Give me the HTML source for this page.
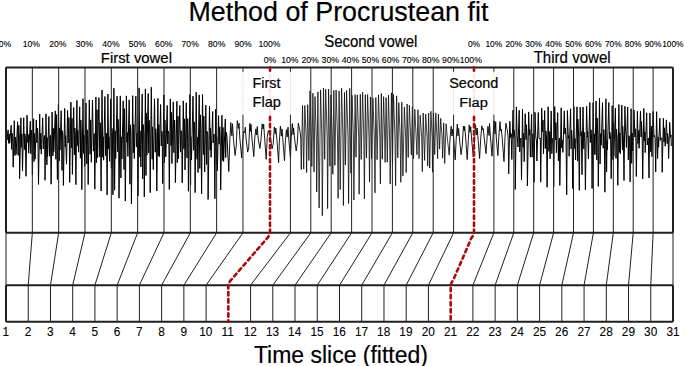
<!DOCTYPE html>
<html><head><meta charset="utf-8"><style>
html,body{margin:0;padding:0;background:#fff;width:685px;height:366px;overflow:hidden}
svg{display:block}
text{font-family:"Liberation Sans",sans-serif;stroke:#000;stroke-width:0.2px}
</style></head><body>
<svg width="685" height="366" viewBox="0 0 685 366">
<rect width="685" height="366" fill="#fff"/>
<path d="M6.5,131.0 L7.0,140.2 L8.1,129.9 L8.6,143.3 L9.2,133.9 L9.7,143.3 L11.2,125.3 L11.6,149.4 L12.0,133.0 L12.6,136.4 L13.2,167.2 L14.3,120.7 L14.9,155.6 L15.4,137.0 L16.1,154.4 L17.6,121.8 L18.1,155.4 L18.8,125.4 L19.3,135.9 L19.6,178.8 L20.9,117.8 L21.4,147.3 L21.9,134.0 L22.5,171.1 L23.7,117.7 L24.4,149.6 L24.8,133.8 L25.3,135.7 L26.0,176.3 L27.0,115.2 L27.8,142.4 L28.2,134.4 L28.7,153.2 L30.3,121.2 L30.8,153.8 L31.5,130.0 L31.9,135.9 L32.4,174.9 L33.6,118.8 L34.0,161.4 L34.4,133.3 L35.1,159.1 L36.3,120.0 L36.9,142.8 L37.4,128.1 L37.9,135.8 L38.5,184.4 L39.7,114.0 L40.2,149.3 L40.8,133.2 L41.3,154.1 L42.7,117.8 L43.3,149.0 L43.9,137.5 L44.6,135.5 L45.0,180.3 L46.0,113.9 L46.9,164.8 L47.1,137.6 L47.6,156.6 L48.9,116.5 L49.5,156.2 L50.2,136.6 L50.5,135.3 L51.1,184.2 L52.1,112.0 L52.9,155.9 L53.3,128.3 L53.8,151.7 L55.3,110.9 L55.9,159.3 L56.4,114.6 L56.8,134.9 L57.4,179.6 L58.4,104.4 L59.2,160.9 L59.4,128.1 L60.0,150.1 L61.2,110.7 L62.0,170.4 L62.4,130.7 L62.9,134.7 L63.4,185.4 L64.7,108.5 L65.3,146.7 L65.6,135.7 L66.5,164.2 L67.6,110.5 L68.2,142.9 L68.9,117.5 L69.3,134.7 L69.7,182.4 L70.9,102.1 L71.6,147.7 L72.0,118.3 L72.4,174.4 L73.7,107.5 L74.4,154.9 L74.8,128.0 L75.3,134.1 L75.9,184.6 L76.9,100.4 L77.3,145.6 L77.8,130.2 L78.6,152.2 L79.7,106.8 L80.4,158.2 L80.8,120.0 L81.3,134.0 L81.8,189.7 L83.0,98.7 L83.6,153.4 L84.0,135.1 L84.7,166.4 L86.0,103.0 L86.8,163.9 L87.3,129.8 L87.6,133.8 L88.2,184.5 L89.3,99.9 L90.1,154.2 L90.7,119.9 L91.3,162.3 L92.5,100.0 L93.4,151.2 L93.9,135.3 L94.3,133.6 L94.8,189.2 L95.9,97.0 L96.4,162.6 L97.0,109.7 L97.6,157.7 L98.9,97.7 L99.7,156.8 L100.2,122.7 L100.5,133.3 L101.1,191.0 L102.0,90.0 L102.8,157.4 L103.2,136.8 L103.6,160.2 L104.9,96.5 L105.7,155.7 L106.1,133.9 L106.5,133.3 L107.1,194.9 L107.9,94.0 L108.6,148.9 L108.9,136.8 L109.6,161.3 L110.8,98.8 L111.4,168.3 L111.9,128.3 L112.4,133.2 L112.9,194.8 L113.9,88.2 L114.6,190.2 L115.2,130.8 L115.7,158.6 L117.1,96.2 L117.7,151.8 L118.1,119.4 L118.6,133.3 L119.0,198.2 L120.3,95.9 L120.9,178.0 L121.2,136.8 L121.9,159.0 L123.2,100.8 L124.0,169.5 L124.3,108.6 L124.8,133.4 L125.3,201.1 L126.4,95.9 L126.9,142.3 L127.4,132.6 L127.9,156.4 L129.2,99.8 L129.9,184.2 L130.4,124.8 L130.9,133.3 L131.4,204.0 L132.7,95.7 L133.3,152.8 L133.8,124.4 L134.3,158.5 L135.8,96.2 L136.4,147.0 L137.0,133.2 L137.4,133.0 L138.0,195.9 L139.1,87.9 L139.8,157.0 L140.0,130.9 L140.9,166.9 L142.2,94.1 L142.7,179.0 L143.2,124.5 L143.8,132.9 L144.3,196.9 L145.4,88.9 L146.0,175.5 L146.3,112.9 L146.9,155.1 L148.2,93.5 L148.7,153.0 L149.2,120.3 L149.8,133.0 L150.2,192.7 L151.3,87.2 L152.2,159.3 L152.5,126.9 L153.3,169.6 L154.5,98.8 L155.3,152.2 L155.7,128.7 L156.2,133.5 L156.8,191.0 L157.9,98.4 L158.2,155.9 L158.8,124.5 L159.3,156.7 L160.6,104.5 L161.3,146.0 L161.8,131.0 L162.2,133.8 L162.7,183.6 L163.9,94.9 L164.5,162.8 L164.9,120.0 L165.8,156.8 L167.2,105.4 L167.7,143.9 L168.2,131.0 L168.8,134.1 L169.3,189.5 L170.3,98.9 L171.0,145.5 L171.5,112.4 L171.9,163.6 L173.3,101.9 L173.9,152.6 L174.6,120.2 L175.0,134.0 L175.4,182.6 L176.9,101.3 L177.3,162.6 L178.0,116.3 L178.4,159.0 L179.8,105.4 L180.5,152.1 L181.1,130.6 L181.7,133.9 L182.2,182.8 L183.3,100.9 L183.9,148.8 L184.5,118.9 L185.0,169.9 L186.3,102.8 L187.0,158.0 L187.7,118.6 L188.1,133.6 L188.4,191.3 L189.9,94.5 L190.6,184.9 L190.8,136.7 L191.5,159.9 L193.0,96.2 L193.7,150.2 L194.3,121.9 L194.7,133.0 L195.1,192.6 L196.2,92.2 L197.0,159.2 L197.3,137.2 L198.0,172.5 L199.2,94.9 L199.8,168.4 L200.4,114.8 L201.0,133.0 L201.6,194.0 L202.5,94.3 L203.4,154.5 L203.8,116.1 L204.7,172.0 L205.8,105.1 L206.6,164.5 L207.0,131.3 L207.7,134.2 L208.1,199.5 L209.5,106.3 L210.2,150.1 L210.4,128.0 L211.1,157.4 L212.7,111.5 L213.1,142.9 L213.9,134.0 L214.2,135.1 L214.9,198.7 L215.7,109.2 L216.5,164.3 L216.7,136.8 L217.4,170.7 L218.6,115.7 L219.1,144.2 L219.7,126.8 L220.2,135.4 L220.7,190.0 L221.9,115.2 L222.8,160.6 L223.0,127.4 L223.6,161.5 L225.3,119.0 L225.7,157.6 L226.2,132.0 L226.9,136.0 L228.8,171.5" fill="none" stroke="#000" stroke-width="1.0" stroke-linejoin="round"/>
<path d="M228.8,171.5 L229.9,138.6 L230.8,122.6 L231.9,135.8 L232.5,123.7 L233.4,138.0 L235.1,155.5 L236.3,145.3 L237.3,120.7 L238.4,128.4 L239.0,123.2 L239.8,138.0 L241.7,157.8 L242.5,142.9 L243.7,131.5 L244.7,132.8 L245.3,127.2 L246.0,138.0 L247.7,152.1 L248.7,147.8 L249.8,123.4 L250.4,131.4 L251.0,124.4 L251.9,138.0 L253.8,156.6 L254.7,138.8 L255.9,128.9 L256.5,135.0 L257.3,126.5 L258.1,138.0 L259.9,148.5 L260.9,140.6 L262.2,123.8 L263.0,129.1 L263.7,124.3 L264.6,138.0 L266.2,159.3 L267.2,137.3 L268.3,130.7 L269.0,132.4 L269.6,131.7 L270.5,138.0 L272.1,148.9 L273.3,143.2 L274.3,126.9 L275.3,133.8 L275.8,128.1 L276.8,138.0 L278.6,162.6 L279.3,142.9 L280.4,126.1 L281.4,136.1 L282.0,128.9 L282.7,138.0 L284.5,160.7 L285.4,140.4 L286.4,129.7 L287.2,137.0 L288.0,127.2 L288.7,138.0 L290.5,158.3 L291.2,138.0 L292.3,123.6 L293.1,134.6 L293.6,127.9 L294.5,138.0 L296.2,151.0 L297.3,142.9 L298.3,123.2 L299.4,128.1 L300.0,131.2 L300.8,138.0 L301.3,169.5" fill="none" stroke="#000" stroke-width="0.9" stroke-linejoin="round"/>
<path d="M301.3,169.5 L302.5,105.4 L303.7,169.1 L304.8,105.5 L306.2,138.0 L306.6,172.6 L307.7,104.7 L308.9,160.5 L310.0,90.9 L311.3,138.0 L311.8,166.5 L312.9,93.2 L314.0,171.9 L315.0,96.6 L316.3,138.0 L316.7,191.9 L317.9,91.9 L319.1,208.0 L320.6,89.9 L321.8,138.0 L322.3,215.7 L323.5,88.1 L324.7,159.3 L325.7,89.2 L327.2,138.0 L327.6,208.6 L328.6,89.1 L329.9,166.2 L330.9,94.8 L332.3,138.0 L332.8,174.3 L333.8,90.4 L334.9,165.4 L336.1,90.0 L337.5,138.0 L338.1,198.3 L339.1,90.9 L340.2,189.6 L341.6,88.3 L342.9,138.0 L343.4,205.5 L344.5,92.4 L345.4,164.8 L346.6,90.4 L348.0,138.0 L348.6,203.5 L349.7,88.3 L350.9,173.2 L352.0,95.3 L353.4,138.0 L353.9,200.0 L355.1,94.7 L356.0,157.2 L357.3,94.9 L358.7,138.0 L359.1,194.2 L360.3,94.3 L361.2,159.5 L362.6,92.2 L363.8,138.0 L364.4,199.0 L365.3,94.7 L366.5,157.9 L367.6,94.6 L369.0,138.0 L369.5,182.1 L370.4,96.9 L371.6,158.5 L372.9,97.8 L374.3,138.0 L375.0,192.9 L375.8,97.5 L377.1,159.7 L378.5,94.8 L379.8,138.0 L380.4,183.9 L381.3,93.4 L382.3,159.2 L383.6,96.6 L384.7,138.0 L385.1,162.4 L386.1,97.5 L387.3,162.2 L388.5,95.1 L389.6,138.0 L390.2,184.1 L391.4,92.8 L392.5,163.9 L393.5,94.4 L395.0,138.0 L395.6,185.8 L396.6,95.9 L397.8,157.8 L398.8,102.6 L400.2,138.0 L400.8,182.3 L401.8,102.2 L402.9,175.9 L404.4,106.9 L405.7,138.0 L406.2,172.6 L407.1,104.0 L408.2,157.4 L409.4,105.2 L410.7,138.0 L411.3,155.1 L412.4,106.6 L413.5,158.8 L414.8,109.3 L416.2,138.0 L416.9,154.7 L418.0,109.7 L419.0,158.6 L420.2,115.3 L421.7,138.0 L422.3,171.6 L423.2,113.0 L424.6,160.4 L425.7,114.1 L427.1,138.0 L427.7,166.1 L428.6,113.1 L429.7,168.1 L430.9,111.3 L432.2,138.0 L432.5,172.2 L433.5,112.9 L434.7,154.5 L435.8,112.8 L437.0,138.0 L437.6,158.6 L438.4,114.0 L439.6,149.1 L440.7,118.3 L442.1,138.0 L442.6,158.2 L443.7,122.9 L444.7,163.4 L446.1,123.8 L447.3,138.0 L449.2,155.1" fill="none" stroke="#000" stroke-width="0.75" stroke-linejoin="round"/>
<path d="M449.2,155.1 L450.2,136.1 L451.2,126.3 L452.0,136.1 L452.7,129.0 L453.6,138.0 L455.2,159.9 L456.2,139.0 L457.3,124.0 L458.0,135.9 L458.6,128.5 L459.4,138.0 L461.1,154.7 L462.3,145.3 L463.4,126.2 L464.2,130.6 L464.7,126.4 L465.7,138.0 L467.2,159.5 L468.2,141.9 L469.2,124.9 L470.0,132.3 L470.7,126.7 L471.5,138.0 L473.3,157.0 L474.4,142.7 L475.4,124.6 L476.5,135.0 L477.1,128.0 L478.0,138.0 L479.6,158.5 L480.7,139.0 L481.8,125.9 L482.8,129.9 L483.3,128.7 L484.2,138.0 L486.0,153.7 L487.1,137.4 L487.9,126.3 L489.1,135.5 L489.5,123.6 L490.5,138.0 L492.0,156.2 L493.0,136.6 L494.1,120.8 L495.0,134.0 L495.7,121.6 L496.3,138.0 L497.9,155.6 L498.8,137.3 L500.0,121.5 L500.8,131.0 L501.3,129.1 L502.2,138.0 L504.0,161.6 L505.0,137.2 L505.9,123.1 L506.8,128.3 L507.4,129.8 L508.2,138.0 L508.7,173.8" fill="none" stroke="#000" stroke-width="0.9" stroke-linejoin="round"/>
<path d="M508.7,173.8 L509.8,121.3 L510.7,137.6 L511.2,133.7 L511.8,159.5 L513.0,110.2 L513.6,137.8 L514.2,129.8 L514.9,138.0 L515.3,189.4 L516.4,106.9 L517.1,135.7 L517.4,138.9 L518.0,147.0 L519.2,110.2 L519.7,151.9 L520.4,140.4 L520.9,138.0 L521.5,180.1 L522.5,109.1 L523.1,147.2 L523.5,133.4 L524.2,161.7 L525.2,113.7 L526.0,139.6 L526.4,124.7 L527.0,138.0 L527.4,185.9 L528.7,111.9 L529.3,135.3 L529.8,129.7 L530.4,157.1 L531.6,114.3 L532.1,157.2 L532.9,133.8 L533.4,138.0 L534.0,182.3 L535.0,112.3 L535.8,137.1 L536.5,140.9 L536.9,161.0 L538.3,112.5 L539.0,137.9 L539.6,138.9 L540.3,138.0 L540.7,182.2 L541.7,108.3 L542.4,131.6 L543.0,120.2 L543.5,153.7 L544.7,110.6 L545.3,148.5 L545.9,130.8 L546.5,138.0 L547.1,187.3 L548.1,106.8 L549.0,151.4 L549.3,131.6 L550.1,158.8 L551.2,111.0 L551.8,153.6 L552.4,139.3 L553.2,138.0 L553.7,186.6 L554.7,106.6 L555.5,139.9 L555.9,122.6 L556.4,152.8 L557.7,112.7 L558.4,160.9 L558.7,143.0 L559.4,138.0 L559.8,185.4 L561.2,107.8 L561.7,147.8 L562.3,139.9 L562.9,152.4 L564.3,110.9 L564.8,134.0 L565.4,128.1 L566.0,138.0 L566.7,194.9 L567.4,110.6 L568.3,138.2 L568.8,135.6 L569.1,156.3 L570.6,108.8 L571.1,148.9 L571.6,130.2 L572.1,138.0 L572.7,188.5 L573.9,106.5 L574.4,148.4 L575.0,138.6 L575.6,159.9 L577.0,106.8 L577.7,161.2 L577.9,119.1 L578.7,138.0 L579.3,190.3 L580.2,107.2 L580.9,136.3 L581.3,131.7 L582.0,174.7 L583.0,107.0 L583.8,148.9 L584.1,132.2 L584.8,138.0 L585.4,189.7 L586.6,106.2 L587.4,137.2 L587.7,131.7 L588.4,159.0 L589.8,102.5 L590.4,142.5 L591.0,129.8 L591.6,138.0 L592.1,188.5 L593.1,102.7 L594.0,153.7 L594.4,133.9 L595.0,154.8 L596.1,101.0 L596.8,159.9 L597.2,118.0 L597.9,138.0 L598.3,186.4 L599.5,98.3 L600.1,164.0 L600.6,133.7 L601.2,145.2 L602.5,102.6 L603.2,148.2 L603.8,129.6 L604.3,138.0 L604.9,192.2 L605.9,98.8 L606.6,171.9 L607.0,140.6 L607.4,149.8 L608.8,102.5 L609.5,138.9 L609.9,132.2 L610.6,138.0 L611.2,178.7 L612.2,105.7 L613.0,159.7 L613.3,122.4 L613.8,156.5 L615.4,108.1 L616.0,158.5 L616.5,129.2 L617.2,138.0 L617.8,185.3 L618.9,104.5 L619.3,152.3 L619.8,132.8 L620.4,153.8 L621.8,105.1 L622.5,149.9 L622.7,126.3 L623.4,138.0 L624.0,180.5 L624.9,106.2 L625.6,131.3 L626.1,136.0 L626.4,147.4 L627.7,107.0 L628.3,159.9 L628.9,135.6 L629.5,138.0 L630.1,181.9 L631.1,108.7 L631.7,163.4 L632.2,133.0 L632.8,151.0 L634.0,110.1 L634.9,137.0 L635.3,128.7 L635.9,138.0 L636.3,176.5 L637.4,111.3 L638.0,143.6 L638.7,130.4 L639.1,148.3 L640.5,111.2 L641.1,137.0 L641.5,121.6 L642.2,138.0 L642.7,178.9 L643.8,108.5 L644.3,140.7 L644.9,131.9 L645.2,152.6 L646.7,112.8 L647.2,145.0 L647.7,140.9 L648.3,138.0 L649.0,178.0 L649.9,113.0 L650.8,151.8 L651.4,126.1 L651.9,156.6 L653.1,111.4 L654.0,136.8 L654.3,135.3 L655.1,138.0 L655.7,171.9 L656.6,111.7 L657.6,158.5 L658.2,137.3 L658.6,147.1 L659.9,118.2 L660.4,140.4 L661.0,138.2 L661.8,138.0 L662.2,172.3 L663.4,118.3 L664.0,142.0 L664.4,127.8 L665.2,146.3 L666.4,119.9 L667.2,143.7 L667.5,133.4 L668.2,138.0 L668.6,158.5 L669.7,122.4 L670.5,137.5 L671.0,134.9 L671.3,146.0" fill="none" stroke="#000" stroke-width="1.0" stroke-linejoin="round"/>

<line x1="32.33" y1="67.6" x2="32.33" y2="232.8" stroke="#231f20" stroke-width="1"/>
<line x1="58.66" y1="67.6" x2="58.66" y2="232.8" stroke="#231f20" stroke-width="1"/>
<line x1="84.99" y1="67.6" x2="84.99" y2="232.8" stroke="#231f20" stroke-width="1"/>
<line x1="111.32" y1="67.6" x2="111.32" y2="232.8" stroke="#231f20" stroke-width="1"/>
<line x1="137.65" y1="67.6" x2="137.65" y2="232.8" stroke="#231f20" stroke-width="1"/>
<line x1="163.98" y1="67.6" x2="163.98" y2="232.8" stroke="#231f20" stroke-width="1"/>
<line x1="190.31" y1="67.6" x2="190.31" y2="232.8" stroke="#231f20" stroke-width="1"/>
<line x1="216.64" y1="67.6" x2="216.64" y2="232.8" stroke="#231f20" stroke-width="1"/>
<line x1="242.97" y1="67.6" x2="242.97" y2="232.8" stroke="#231f20" stroke-width="1"/>
<line x1="290.40" y1="67.6" x2="290.40" y2="232.8" stroke="#231f20" stroke-width="1"/>
<line x1="310.80" y1="67.6" x2="310.80" y2="232.8" stroke="#231f20" stroke-width="1"/>
<line x1="331.20" y1="67.6" x2="331.20" y2="232.8" stroke="#231f20" stroke-width="1"/>
<line x1="351.60" y1="67.6" x2="351.60" y2="232.8" stroke="#231f20" stroke-width="1"/>
<line x1="372.00" y1="67.6" x2="372.00" y2="232.8" stroke="#231f20" stroke-width="1"/>
<line x1="392.40" y1="67.6" x2="392.40" y2="232.8" stroke="#231f20" stroke-width="1"/>
<line x1="412.80" y1="67.6" x2="412.80" y2="232.8" stroke="#231f20" stroke-width="1"/>
<line x1="433.20" y1="67.6" x2="433.20" y2="232.8" stroke="#231f20" stroke-width="1"/>
<line x1="453.60" y1="67.6" x2="453.60" y2="232.8" stroke="#231f20" stroke-width="1"/>
<line x1="493.90" y1="67.6" x2="493.90" y2="232.8" stroke="#231f20" stroke-width="1"/>
<line x1="513.80" y1="67.6" x2="513.80" y2="232.8" stroke="#231f20" stroke-width="1"/>
<line x1="533.70" y1="67.6" x2="533.70" y2="232.8" stroke="#231f20" stroke-width="1"/>
<line x1="553.60" y1="67.6" x2="553.60" y2="232.8" stroke="#231f20" stroke-width="1"/>
<line x1="573.50" y1="67.6" x2="573.50" y2="232.8" stroke="#231f20" stroke-width="1"/>
<line x1="593.40" y1="67.6" x2="593.40" y2="232.8" stroke="#231f20" stroke-width="1"/>
<line x1="613.30" y1="67.6" x2="613.30" y2="232.8" stroke="#231f20" stroke-width="1"/>
<line x1="633.20" y1="67.6" x2="633.20" y2="232.8" stroke="#231f20" stroke-width="1"/>
<line x1="653.10" y1="67.6" x2="653.10" y2="232.8" stroke="#231f20" stroke-width="1"/>
<line x1="6.00" y1="232.8" x2="6.00" y2="285.2" stroke="#231f20" stroke-width="1"/>
<line x1="32.33" y1="232.8" x2="28.23" y2="285.2" stroke="#231f20" stroke-width="1"/>
<line x1="58.66" y1="232.8" x2="50.47" y2="285.2" stroke="#231f20" stroke-width="1"/>
<line x1="84.99" y1="232.8" x2="72.70" y2="285.2" stroke="#231f20" stroke-width="1"/>
<line x1="111.32" y1="232.8" x2="94.93" y2="285.2" stroke="#231f20" stroke-width="1"/>
<line x1="137.65" y1="232.8" x2="117.17" y2="285.2" stroke="#231f20" stroke-width="1"/>
<line x1="163.98" y1="232.8" x2="139.40" y2="285.2" stroke="#231f20" stroke-width="1"/>
<line x1="190.31" y1="232.8" x2="161.63" y2="285.2" stroke="#231f20" stroke-width="1"/>
<line x1="216.64" y1="232.8" x2="183.87" y2="285.2" stroke="#231f20" stroke-width="1"/>
<line x1="242.97" y1="232.8" x2="206.10" y2="285.2" stroke="#231f20" stroke-width="1"/>
<line x1="290.40" y1="232.8" x2="250.57" y2="285.2" stroke="#231f20" stroke-width="1"/>
<line x1="310.80" y1="232.8" x2="272.80" y2="285.2" stroke="#231f20" stroke-width="1"/>
<line x1="331.20" y1="232.8" x2="295.03" y2="285.2" stroke="#231f20" stroke-width="1"/>
<line x1="351.60" y1="232.8" x2="317.27" y2="285.2" stroke="#231f20" stroke-width="1"/>
<line x1="372.00" y1="232.8" x2="339.50" y2="285.2" stroke="#231f20" stroke-width="1"/>
<line x1="392.40" y1="232.8" x2="361.73" y2="285.2" stroke="#231f20" stroke-width="1"/>
<line x1="412.80" y1="232.8" x2="383.97" y2="285.2" stroke="#231f20" stroke-width="1"/>
<line x1="433.20" y1="232.8" x2="406.20" y2="285.2" stroke="#231f20" stroke-width="1"/>
<line x1="453.60" y1="232.8" x2="428.43" y2="285.2" stroke="#231f20" stroke-width="1"/>
<line x1="493.90" y1="232.8" x2="472.90" y2="285.2" stroke="#231f20" stroke-width="1"/>
<line x1="513.80" y1="232.8" x2="495.13" y2="285.2" stroke="#231f20" stroke-width="1"/>
<line x1="533.70" y1="232.8" x2="517.37" y2="285.2" stroke="#231f20" stroke-width="1"/>
<line x1="553.60" y1="232.8" x2="539.60" y2="285.2" stroke="#231f20" stroke-width="1"/>
<line x1="573.50" y1="232.8" x2="561.83" y2="285.2" stroke="#231f20" stroke-width="1"/>
<line x1="593.40" y1="232.8" x2="584.07" y2="285.2" stroke="#231f20" stroke-width="1"/>
<line x1="613.30" y1="232.8" x2="606.30" y2="285.2" stroke="#231f20" stroke-width="1"/>
<line x1="633.20" y1="232.8" x2="628.53" y2="285.2" stroke="#231f20" stroke-width="1"/>
<line x1="653.10" y1="232.8" x2="650.77" y2="285.2" stroke="#231f20" stroke-width="1"/>
<line x1="673.00" y1="232.8" x2="673.00" y2="285.2" stroke="#231f20" stroke-width="1"/>
<line x1="28.23" y1="285.2" x2="28.23" y2="321.8" stroke="#231f20" stroke-width="1"/>
<line x1="50.47" y1="285.2" x2="50.47" y2="321.8" stroke="#231f20" stroke-width="1"/>
<line x1="72.70" y1="285.2" x2="72.70" y2="321.8" stroke="#231f20" stroke-width="1"/>
<line x1="94.93" y1="285.2" x2="94.93" y2="321.8" stroke="#231f20" stroke-width="1"/>
<line x1="117.17" y1="285.2" x2="117.17" y2="321.8" stroke="#231f20" stroke-width="1"/>
<line x1="139.40" y1="285.2" x2="139.40" y2="321.8" stroke="#231f20" stroke-width="1"/>
<line x1="161.63" y1="285.2" x2="161.63" y2="321.8" stroke="#231f20" stroke-width="1"/>
<line x1="183.87" y1="285.2" x2="183.87" y2="321.8" stroke="#231f20" stroke-width="1"/>
<line x1="206.10" y1="285.2" x2="206.10" y2="321.8" stroke="#231f20" stroke-width="1"/>
<line x1="250.57" y1="285.2" x2="250.57" y2="321.8" stroke="#231f20" stroke-width="1"/>
<line x1="272.80" y1="285.2" x2="272.80" y2="321.8" stroke="#231f20" stroke-width="1"/>
<line x1="295.03" y1="285.2" x2="295.03" y2="321.8" stroke="#231f20" stroke-width="1"/>
<line x1="317.27" y1="285.2" x2="317.27" y2="321.8" stroke="#231f20" stroke-width="1"/>
<line x1="339.50" y1="285.2" x2="339.50" y2="321.8" stroke="#231f20" stroke-width="1"/>
<line x1="361.73" y1="285.2" x2="361.73" y2="321.8" stroke="#231f20" stroke-width="1"/>
<line x1="383.97" y1="285.2" x2="383.97" y2="321.8" stroke="#231f20" stroke-width="1"/>
<line x1="406.20" y1="285.2" x2="406.20" y2="321.8" stroke="#231f20" stroke-width="1"/>
<line x1="428.43" y1="285.2" x2="428.43" y2="321.8" stroke="#231f20" stroke-width="1"/>
<line x1="472.90" y1="285.2" x2="472.90" y2="321.8" stroke="#231f20" stroke-width="1"/>
<line x1="495.13" y1="285.2" x2="495.13" y2="321.8" stroke="#231f20" stroke-width="1"/>
<line x1="517.37" y1="285.2" x2="517.37" y2="321.8" stroke="#231f20" stroke-width="1"/>
<line x1="539.60" y1="285.2" x2="539.60" y2="321.8" stroke="#231f20" stroke-width="1"/>
<line x1="561.83" y1="285.2" x2="561.83" y2="321.8" stroke="#231f20" stroke-width="1"/>
<line x1="584.07" y1="285.2" x2="584.07" y2="321.8" stroke="#231f20" stroke-width="1"/>
<line x1="606.30" y1="285.2" x2="606.30" y2="321.8" stroke="#231f20" stroke-width="1"/>
<line x1="628.53" y1="285.2" x2="628.53" y2="321.8" stroke="#231f20" stroke-width="1"/>
<line x1="650.77" y1="285.2" x2="650.77" y2="321.8" stroke="#231f20" stroke-width="1"/>
<rect x="6.0" y="67.6" width="667.0" height="165.20000000000002" fill="none" stroke="#231f20" stroke-width="2" rx="1"/>
<rect x="6.0" y="285.2" width="667.0" height="36.60000000000002" fill="none" stroke="#231f20" stroke-width="2" rx="1"/>
<path d="M270,67.6 L270,231.8 Q270,234.8 267.5,237.8 L230.83333333333334,280.2 Q228.33333333333334,283.2 228.33333333333334,286.2 L228.33333333333334,321.8" fill="none" stroke="#aa0a10" stroke-width="2.6" stroke-dasharray="3.44 3.6" stroke-dashoffset="0" stroke-linecap="round"/>
<path d="M474,67.6 L474,231.8 Q474,234.8 471.5,237.8 L453.1666666666667,280.2 Q450.6666666666667,283.2 450.6666666666667,286.2 L450.6666666666667,321.8" fill="none" stroke="#aa0a10" stroke-width="2.6" stroke-dasharray="3.44 3.6" stroke-dashoffset="0" stroke-linecap="round"/>
<rect x="242" y="71.8" width="50" height="42.9" fill="#fff" fill-opacity="0.9"/>
<rect x="448.5" y="71.8" width="50.5" height="42.9" fill="#fff" fill-opacity="0.9"/>
<text transform="translate(188.40,21.00) scale(0.9429,1)" font-size="28.49" fill="#000" >Method of Procrustean fit</text>
<text transform="translate(-1.19,46.70) scale(0.9100,1)" font-size="9.46" fill="#000" style="stroke-width:0.12px">0%</text>
<text transform="translate(22.71,46.70) scale(0.9100,1)" font-size="9.46" fill="#000" style="stroke-width:0.12px">10%</text>
<text transform="translate(49.29,46.70) scale(0.9100,1)" font-size="9.46" fill="#000" style="stroke-width:0.12px">20%</text>
<text transform="translate(75.80,46.70) scale(0.9100,1)" font-size="9.46" fill="#000" style="stroke-width:0.12px">30%</text>
<text transform="translate(102.32,46.70) scale(0.9100,1)" font-size="9.46" fill="#000" style="stroke-width:0.12px">40%</text>
<text transform="translate(128.71,46.70) scale(0.9100,1)" font-size="9.46" fill="#000" style="stroke-width:0.12px">50%</text>
<text transform="translate(155.12,46.70) scale(0.9100,1)" font-size="9.46" fill="#000" style="stroke-width:0.12px">60%</text>
<text transform="translate(181.58,46.70) scale(0.9100,1)" font-size="9.46" fill="#000" style="stroke-width:0.12px">70%</text>
<text transform="translate(208.08,46.70) scale(0.9100,1)" font-size="9.46" fill="#000" style="stroke-width:0.12px">80%</text>
<text transform="translate(234.52,46.70) scale(0.9100,1)" font-size="9.46" fill="#000" style="stroke-width:0.12px">90%</text>
<text transform="translate(258.46,46.70) scale(0.9100,1)" font-size="9.46" fill="#000" style="stroke-width:0.12px">100%</text>
<text transform="translate(263.67,63.30) scale(0.9100,1)" font-size="9.60" fill="#000" style="stroke-width:0.12px">0%</text>
<text transform="translate(281.18,63.30) scale(0.9100,1)" font-size="9.60" fill="#000" style="stroke-width:0.12px">10%</text>
<text transform="translate(301.39,63.30) scale(0.9100,1)" font-size="9.60" fill="#000" style="stroke-width:0.12px">20%</text>
<text transform="translate(321.55,63.30) scale(0.9100,1)" font-size="9.60" fill="#000" style="stroke-width:0.12px">30%</text>
<text transform="translate(341.71,63.30) scale(0.9100,1)" font-size="9.60" fill="#000" style="stroke-width:0.12px">40%</text>
<text transform="translate(361.74,63.30) scale(0.9100,1)" font-size="9.60" fill="#000" style="stroke-width:0.12px">50%</text>
<text transform="translate(381.79,63.30) scale(0.9100,1)" font-size="9.60" fill="#000" style="stroke-width:0.12px">60%</text>
<text transform="translate(401.89,63.30) scale(0.9100,1)" font-size="9.60" fill="#000" style="stroke-width:0.12px">70%</text>
<text transform="translate(422.02,63.30) scale(0.9100,1)" font-size="9.60" fill="#000" style="stroke-width:0.12px">80%</text>
<text transform="translate(442.11,63.30) scale(0.9100,1)" font-size="9.60" fill="#000" style="stroke-width:0.12px">90%</text>
<text transform="translate(459.65,63.30) scale(0.9100,1)" font-size="9.60" fill="#000" style="stroke-width:0.12px">100%</text>
<text transform="translate(467.96,46.70) scale(0.9100,1)" font-size="9.17" fill="#000" style="stroke-width:0.12px">0%</text>
<text transform="translate(485.38,46.70) scale(0.9100,1)" font-size="9.17" fill="#000" style="stroke-width:0.12px">10%</text>
<text transform="translate(505.39,46.70) scale(0.9100,1)" font-size="9.17" fill="#000" style="stroke-width:0.12px">20%</text>
<text transform="translate(525.34,46.70) scale(0.9100,1)" font-size="9.17" fill="#000" style="stroke-width:0.12px">30%</text>
<text transform="translate(545.30,46.70) scale(0.9100,1)" font-size="9.17" fill="#000" style="stroke-width:0.12px">40%</text>
<text transform="translate(565.13,46.70) scale(0.9100,1)" font-size="9.17" fill="#000" style="stroke-width:0.12px">50%</text>
<text transform="translate(584.99,46.70) scale(0.9100,1)" font-size="9.17" fill="#000" style="stroke-width:0.12px">60%</text>
<text transform="translate(604.88,46.70) scale(0.9100,1)" font-size="9.17" fill="#000" style="stroke-width:0.12px">70%</text>
<text transform="translate(624.82,46.70) scale(0.9100,1)" font-size="9.17" fill="#000" style="stroke-width:0.12px">80%</text>
<text transform="translate(644.70,46.70) scale(0.9100,1)" font-size="9.17" fill="#000" style="stroke-width:0.12px">90%</text>
<text transform="translate(662.16,46.70) scale(0.9100,1)" font-size="9.17" fill="#000" style="stroke-width:0.12px">100%</text>
<text transform="translate(100.78,62.80) scale(1.0053,1)" font-size="14.83" fill="#000" >First vowel</text>
<text transform="translate(324.22,46.60) scale(0.9524,1)" font-size="15.70" fill="#000" >Second vowel</text>
<text transform="translate(533.66,63.00) scale(0.9425,1)" font-size="15.99" fill="#000" >Third vowel</text>
<text transform="translate(252.52,88.20) scale(0.9968,1)" font-size="14.39" fill="#000" >First</text>
<text transform="translate(252.50,107.40) scale(1.0048,1)" font-size="14.53" fill="#000" >Flap</text>
<text transform="translate(449.14,87.80) scale(1.0504,1)" font-size="13.81" fill="#000" >Second</text>
<text transform="translate(459.30,106.70) scale(1.0845,1)" font-size="13.52" fill="#000" >Flap</text>
<text transform="translate(2.45,336.10) scale(0.9800,1)" font-size="12.06" fill="#000" style="stroke-width:0.1px">1</text>
<text transform="translate(24.85,336.10) scale(0.9800,1)" font-size="12.06" fill="#000" style="stroke-width:0.1px">2</text>
<text transform="translate(47.11,336.10) scale(0.9800,1)" font-size="12.06" fill="#000" style="stroke-width:0.1px">3</text>
<text transform="translate(69.35,336.10) scale(0.9800,1)" font-size="12.06" fill="#000" style="stroke-width:0.1px">4</text>
<text transform="translate(91.56,336.10) scale(0.9800,1)" font-size="12.06" fill="#000" style="stroke-width:0.1px">5</text>
<text transform="translate(113.74,336.10) scale(0.9800,1)" font-size="12.06" fill="#000" style="stroke-width:0.1px">6</text>
<text transform="translate(136.01,336.10) scale(0.9800,1)" font-size="12.06" fill="#000" style="stroke-width:0.1px">7</text>
<text transform="translate(158.25,336.10) scale(0.9800,1)" font-size="12.06" fill="#000" style="stroke-width:0.1px">8</text>
<text transform="translate(180.48,336.10) scale(0.9800,1)" font-size="12.06" fill="#000" style="stroke-width:0.1px">9</text>
<text transform="translate(199.21,336.10) scale(0.9800,1)" font-size="12.06" fill="#000" style="stroke-width:0.1px">10</text>
<text transform="translate(221.50,336.10) scale(0.9800,1)" font-size="12.06" fill="#000" style="stroke-width:0.1px">11</text>
<text transform="translate(243.74,336.10) scale(0.9800,1)" font-size="12.06" fill="#000" style="stroke-width:0.1px">12</text>
<text transform="translate(265.93,336.10) scale(0.9800,1)" font-size="12.06" fill="#000" style="stroke-width:0.1px">13</text>
<text transform="translate(288.08,336.10) scale(0.9800,1)" font-size="12.06" fill="#000" style="stroke-width:0.1px">14</text>
<text transform="translate(310.39,336.10) scale(0.9800,1)" font-size="12.06" fill="#000" style="stroke-width:0.1px">15</text>
<text transform="translate(332.63,336.10) scale(0.9800,1)" font-size="12.06" fill="#000" style="stroke-width:0.1px">16</text>
<text transform="translate(354.91,336.10) scale(0.9800,1)" font-size="12.06" fill="#000" style="stroke-width:0.1px">17</text>
<text transform="translate(377.10,336.10) scale(0.9800,1)" font-size="12.06" fill="#000" style="stroke-width:0.1px">18</text>
<text transform="translate(399.35,336.10) scale(0.9800,1)" font-size="12.06" fill="#000" style="stroke-width:0.1px">19</text>
<text transform="translate(421.69,336.10) scale(0.9800,1)" font-size="12.06" fill="#000" style="stroke-width:0.1px">20</text>
<text transform="translate(443.98,336.10) scale(0.9800,1)" font-size="12.06" fill="#000" style="stroke-width:0.1px">21</text>
<text transform="translate(466.22,336.10) scale(0.9800,1)" font-size="12.06" fill="#000" style="stroke-width:0.1px">22</text>
<text transform="translate(488.42,336.10) scale(0.9800,1)" font-size="12.06" fill="#000" style="stroke-width:0.1px">23</text>
<text transform="translate(510.57,336.10) scale(0.9800,1)" font-size="12.06" fill="#000" style="stroke-width:0.1px">24</text>
<text transform="translate(532.88,336.10) scale(0.9800,1)" font-size="12.06" fill="#000" style="stroke-width:0.1px">25</text>
<text transform="translate(555.12,336.10) scale(0.9800,1)" font-size="12.06" fill="#000" style="stroke-width:0.1px">26</text>
<text transform="translate(577.39,336.10) scale(0.9800,1)" font-size="12.06" fill="#000" style="stroke-width:0.1px">27</text>
<text transform="translate(599.58,336.10) scale(0.9800,1)" font-size="12.06" fill="#000" style="stroke-width:0.1px">28</text>
<text transform="translate(621.84,336.10) scale(0.9800,1)" font-size="12.06" fill="#000" style="stroke-width:0.1px">29</text>
<text transform="translate(644.10,336.10) scale(0.9800,1)" font-size="12.06" fill="#000" style="stroke-width:0.1px">30</text>
<text transform="translate(666.39,336.10) scale(0.9800,1)" font-size="12.06" fill="#000" style="stroke-width:0.1px">31</text>
<text transform="translate(253.88,362.70) scale(0.9530,1)" font-size="24.13" fill="#000" >Time slice (fitted)</text>
</svg>
</body></html>
